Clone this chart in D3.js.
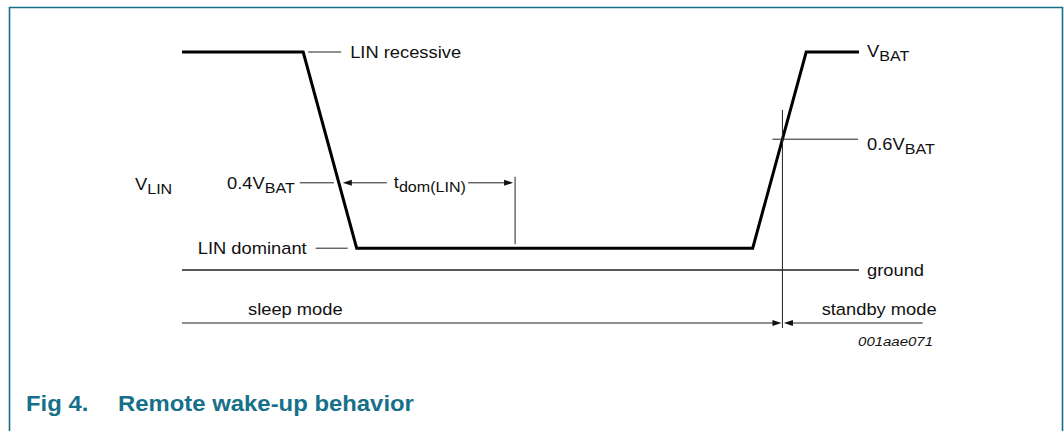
<!DOCTYPE html>
<meta charset="utf-8">
<head>
<script src="https://d3js.org/d3.v7.min.js"></script>
<style>
  body { margin: 0; background: #fff; }
  text { font-family: "Liberation Sans", Arial, sans-serif; fill: #111; }
</style>
</head>
<body>
<svg id="chart" width="1064" height="431"></svg>
<script>
// waveform: time (arbitrary units) and voltage as fraction of VBAT
var waveTime = [0, 17.9, 25.8, 84.3, 92.2, 100];
var waveLevel = [1, 1, 0.1, 0.1, 1, 1];
var thresholdLow = 0.4;   // 0.4 VBAT, start of tdom
var thresholdHigh = 0.6;  // 0.6 VBAT, wake-up point
var tdomEnd = 49.2;
var modeEnd = 109.4;
var modeLabels = ["sleep mode", "standby mode"];
var figCode = "001aae071";

var svg = d3.select("#chart");
var teal = "#17708a";
var stretch = 1.11; // labels in the drawing are set a bit wide

var x = d3.scaleLinear().domain([0, 100]).range([182, 859]);
var y = d3.scaleLinear().domain([0, 1]).range([270, 52]);

// frame, open at the bottom
svg.append("path")
  .attr("d", "M9.5,431 V7.5 H1062.5 V431")
  .attr("fill", "none").attr("stroke", teal).attr("stroke-width", 1.6);

// find crossing time of a level on the segment between points i and i+1
function crossing(i, level) {
  var t0 = waveTime[i], t1 = waveTime[i + 1], v0 = waveLevel[i], v1 = waveLevel[i + 1];
  return t0 + (level - v0) / (v1 - v0) * (t1 - t0);
}
var tLow = crossing(1, thresholdLow);
var tHigh = crossing(3, thresholdHigh);

function thin(x1, y1, x2, y2, w) {
  svg.append("line")
    .attr("x1", x1).attr("y1", y1).attr("x2", x2).attr("y2", y2)
    .attr("stroke", "#222").attr("stroke-width", w || 1);
}
function arrow(tipX, yy, dir) {
  // dir = 1 points right, -1 points left
  var L = 9, H = 3;
  svg.append("path")
    .attr("d", "M" + tipX + "," + yy + " L" + (tipX - dir * L) + "," + (yy - H) +
      " L" + (tipX - dir * L) + "," + (yy + H) + "Z")
    .attr("fill", "#111");
}
function label(tx, ty, main, sub, opts) {
  opts = opts || {};
  var t = svg.append("text")
    .attr("transform", "translate(" + tx + "," + ty + ") scale(" + (opts.sx || stretch) + ",1)")
    .attr("font-size", opts.size || 16.5)
    .attr("text-anchor", opts.anchor || "start");
  if (opts.italic) t.attr("font-style", "italic");
  t.append("tspan").text(main);
  if (sub) t.append("tspan").attr("dy", 4).attr("font-size", 14.5).text(sub);
  return t;
}

// ground
thin(x(0), y(0), x(100), y(0), 1.4);
label(x(100) + 8, y(0) + 6, "ground");

// waveform
var line = d3.line().x(function(d, i) { return x(waveTime[i]); })
  .y(function(d, i) { return y(waveLevel[i]); });
svg.append("path")
  .datum(waveTime)
  .attr("d", line)
  .attr("fill", "none").attr("stroke", "#000").attr("stroke-width", 3)
  .attr("stroke-linejoin", "miter");

// LIN recessive
thin(x(waveTime[1]) + 5, y(1), x(waveTime[1]) + 38, y(1));
label(x(waveTime[1]) + 47, y(1) + 6, "LIN recessive");

// VBAT
label(x(100) + 8, y(1) + 4.5, "V", "BAT");

// 0.6 VBAT
thin(x(tHigh) - 10, y(thresholdHigh), x(100) - 1, y(thresholdHigh));
label(x(100) + 8, y(thresholdHigh) + 10.5, "0.6V", "BAT");
thin(x(tHigh), 110, x(tHigh), 328);

// 0.4 VBAT and tdom
thin(x(tLow) - 39, y(thresholdLow), x(tLow) - 5, y(thresholdLow));
label(x(tLow) - 44, y(thresholdLow) + 6.5, "0.4V", "BAT", { anchor: "end" });
thin(x(tLow) + 6, y(thresholdLow), x(tLow) + 48, y(thresholdLow));
arrow(x(tLow) + 4, y(thresholdLow), -1);
label(x(tLow) + 55, y(thresholdLow) + 5.5, "t", "dom(LIN)");
thin(x(tdomEnd) - 47, y(thresholdLow), x(tdomEnd) - 4, y(thresholdLow));
arrow(x(tdomEnd) - 2, y(thresholdLow), 1);
thin(x(tdomEnd), y(thresholdLow) - 6, x(tdomEnd), y(waveLevel[2]) - 4);

// LIN dominant
thin(x(waveTime[2]) - 41, y(waveLevel[2]), x(waveTime[2]) - 9, y(waveLevel[2]));
label(x(waveTime[2]) - 50, y(waveLevel[2]) + 6, "LIN dominant", null, { anchor: "end" });

// V_LIN axis name
label(135, 190, "V", "LIN");

// modes
var modeY = 323;
thin(x(0), modeY, x(tHigh) - 6, modeY, 1.2);
arrow(x(tHigh) - 1, modeY, 1);
thin(x(tHigh) + 6, modeY, x(modeEnd), modeY, 1.2);
arrow(x(tHigh) + 1.5, modeY, -1);
label(248, modeY - 8.5, modeLabels[0]);
label(x(modeEnd) + 14, modeY - 8, modeLabels[1], null, { anchor: "end" });

label(933, 346, figCode, null, { anchor: "end", size: 13.5, italic: true });

// caption
svg.append("text").attr("transform", "translate(26,411) scale(1.086,1)")
  .attr("font-size", 22).attr("font-weight", "bold").style("fill", teal)
  .text("Fig 4.");
svg.append("text").attr("transform", "translate(118,411) scale(1.086,1)")
  .attr("font-size", 22).attr("font-weight", "bold").style("fill", teal)
  .text("Remote wake-up behavior");
</script>
</body>
